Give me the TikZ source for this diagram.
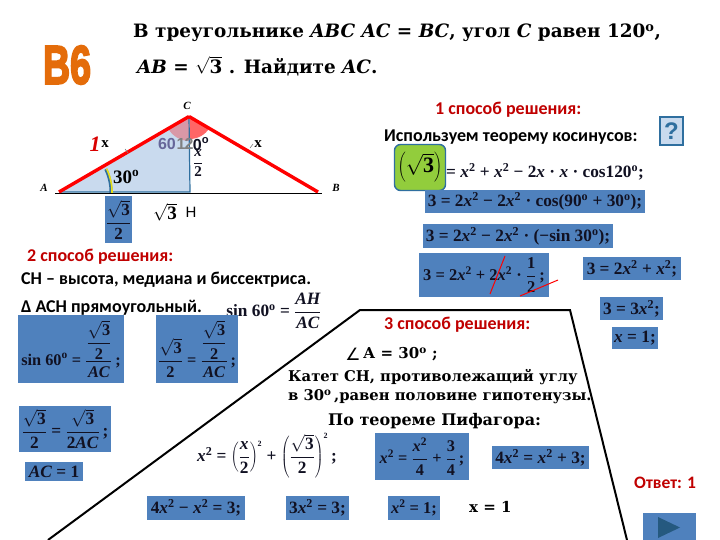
\documentclass[tikz,border=0pt]{standalone}
\usepackage{fontspec}
\setmainfont{Liberation Serif}
\newfontfamily\carl{Carlito}
\newfontfamily\arlf{Liberation Sans}
\newfontfamily\heavyf[BoldFeatures={FakeBold=4}]{Liberation Sans}
\newfontfamily\dejav{DejaVu Sans}
\newfontfamily\wideser{DejaVu Serif}
\usetikzlibrary{calc}
\definecolor{eqblue}{HTML}{4F81BD}
\definecolor{redtxt}{HTML}{C00000}
\definecolor{ink}{HTML}{111122}
\definecolor{triblue}{HTML}{C9DAEE}
\definecolor{tribord}{HTML}{2F6F9F}
\definecolor{orangeb}{HTML}{E46C0A}
\definecolor{greenb}{HTML}{92CD3C}
\newcommand{\fs}[1]{\fontsize{#1}{#1}\selectfont}
\newcommand{\xx}{\textit{x}}
\newcommand{\xs}{\textit{x}\textsuperscript{2}}
\newcommand{\dgr}{\textsuperscript{o}}
\newcommand{\rtt}{$\sqrt{\hbox{3}}$}
\newcommand{\mfr}[2]{\displaystyle\frac{\hbox{#1}}{\hbox{#2}}}
\newcommand{\fr}[2]{$\mfr{#1}{#2}$}
\tikzset{
  x=1pt,y=-1pt,
  eqbox/.style={fill=eqblue,inner sep=0pt,text=ink,font=\bfseries\fs{17.3},anchor=center,align=center},
  plaineq/.style={inner sep=0pt,text=ink,font=\bfseries\fs{17.3},anchor=center},
  redhead/.style={inner sep=0pt,anchor=west,text=redtxt,font=\carl\bfseries\fs{18}},
  sanslab/.style={inner sep=0pt,anchor=west,text=black,font=\carl\bfseries\fs{18}},
  serlab/.style={inner sep=0pt,anchor=west,text=black,font=\wideser\bfseries\fs{15}},
  titlelab/.style={inner sep=0pt,anchor=west,font=\wideser\bfseries\fs{18.4}},
  vertlab/.style={inner sep=0pt,anchor=center,text=black,font=\itshape\bfseries\fs{11}},
  strike/.style={draw=red,line width=1pt},
}
\newcommand{\ebox}[6]{% name, x1,y1,x2,y2, content
  \node[eqbox,minimum width=#4pt-#2pt,minimum height=#5pt-#3pt] (#1) at ({(#2+#4)/2},{(#3+#5)/2}) {#6};}
\begin{document}
\begin{tikzpicture}
\useasboundingbox (0,0) rectangle (720,540);
\fill[white] (0,0) rectangle (720,540);

% heading
\node[titlelab] (t1) at (133,33) {В треугольнике \textit{ABC AC} = \textit{BC}, угол \textit{C} равен 120\textsuperscript{o},};
\node[titlelab] (t2) at (137,66) {\textit{AB} = \rtt\ . Найдите \textit{AC}.};
\node[inner sep=0pt,font=\heavyf\bfseries\fs{42},text=orangeb] (b6) at (67,65) {\resizebox{48pt}{38pt}{B6}};

% triangle
\coordinate (A) at (59,192);
\coordinate (B) at (318,192);
\coordinate (C) at (189,116.5);
\coordinate (H) at (190,192);
\fill[triblue] (A) -- (C) -- (H) -- cycle;
\fill[red!60!white] (190,116.5) -- (190,139) arc[start angle=90,end angle=30,radius=22.5] -- cycle;
\fill[red!30!triblue] (189.5,116.5) -- (189.5,141) arc[start angle=90,end angle=150,radius=24.5] -- cycle;
\draw[tribord,line width=1.2pt] (A) -- (H) -- (C);
\draw[black,line width=1.6pt] (55,193.5) -- (322,193.5);
\draw[red,line width=3.4pt] (A) -- (C);
\draw[red,line width=3.4pt] (C) -- (B);
\draw[tribord,line width=3pt] ($(A)+(-26:52)$) arc[start angle=-26,end angle=1,radius=52];
\draw[yellow!90!black,line width=1.6pt] ($(A)+(-26:53)$) arc[start angle=-26,end angle=1,radius=53];
\draw[gray,line width=.6pt] (125,149) -- (128,153);
\draw[gray,line width=.6pt] (250,148) -- (253,144);

\node[vertlab] (lc) at (187,106) {C};
\node[vertlab] (la) at (44,188) {A};
\node[vertlab] (lb) at (336,188) {B};
\node[inner sep=0pt,text=red!85!black,font=\itshape\bfseries\fs{22}] (n1) at (95,144) {1};
\node[inner sep=0pt,font=\bfseries\fs{15}] (lx1) at (105,144) {x};
\node[inner sep=0pt,font=\bfseries\fs{15}] (lx2) at (258,144) {x};
\node[inner sep=0pt,text=gray!80!blue,font=\arlf\bfseries\fs{16}] (a60) at (167,144) {60};
\node[inner sep=0pt,text=gray,font=\arlf\bfseries\fs{16}] (a1) at (181,144) {1};
\node[inner sep=0pt,text=gray,font=\arlf\bfseries\fs{16}] (a2) at (189,144) {2};
\node[inner sep=0pt,text=ink,font=\arlf\bfseries\fs{16}] (a120) at (201,144) {0\dgr};
\node[inner sep=0pt,font=\bfseries\fs{15},text=ink] (xh) at (198,163) {\fr{\itshape x}{2}};
\node[inner sep=0pt,anchor=west,font=\bfseries\fs{19}] (a30) at (113,177) {30\dgr};
\ebox{bh}{105}{196}{132}{243}{\fs{17}\fr{\rtt}{2}}
\node[inner sep=0pt,font=\bfseries\fs{19}] (ab) at (165,212) {\rtt};
\node[inner sep=0pt,font=\arlf\fs{15}] (hl) at (191,212) {Н};

% method 2
\node[redhead] (m2) at (27,257) {2 способ решения:};
\node[sanslab] (m2a) at (21,280) {СН – высота, медиана  и биссектриса.};
\node[sanslab] (m2b) at (21,308) {Δ АСН прямоугольный.};
\node[plaineq] (sinf) at (274,311) {sin 60\dgr\ = \fr{\itshape AH}{\itshape AC}};
\ebox{e1}{18}{315}{124}{383}{\fs{16.3}sin 60\dgr\ = \fr{\fr{\rtt}{2}}{\itshape AC}\,;}
\ebox{e2}{156}{315}{238}{383}{\fs{16.3}\fr{\rtt}{2} = \fr{\fr{\rtt}{2}}{\itshape AC}\,;}
\ebox{e3}{19}{406}{111}{452}{\fr{\rtt}{2} = \fr{\rtt}{2\itshape AC}\,;}
\ebox{e4}{25}{462}{83}{481}{\textit{AC} = 1}
\ebox{e5}{147}{496}{245}{520}{4\xs\ − \xs\ = 3;}
\ebox{e6}{286}{496}{349}{520}{3\xs\ = 3;}
\ebox{e7}{388}{496}{440}{520}{\fs{16.5}\xs\ = 1;}

% method 3 frame
\coordinate (f1) at (48,540);
\coordinate (f2) at (360,310);
\coordinate (f3) at (570,310);
\coordinate (f4) at (627,540);
\draw[black,line width=2pt,line join=miter] (f1) -- (f2) -- (f3) -- (f4);
\node[redhead] (m3) at (384,325) {3 способ решения:};
\node[inner sep=0pt,font=\dejav\fs{17}] (ang) at (353,354) {∠};
\node[serlab] (m3a) at (363,354) {А = 30\dgr\ ;};
\node[serlab,font=\wideser\bfseries\fs{14.8}] (m3b) at (288,377) {Катет СН, противолежащий  углу};
\node[serlab,font=\wideser\bfseries\fs{14.8}] (m3c) at (288,397) {в 30\dgr\,,равен  половине гипотенузы.};
\node[serlab,font=\wideser\bfseries\fs{16}] (m3d) at (328,421) {По теореме Пифагора:};
\node[plaineq] (pyth) at (267,456) {\xs\ = $\left(\mfr{\itshape x}{2}\right)^{\hbox{\fs{8}2}}$ + $\left(\mfr{\rtt}{2}\right)^{\hbox{\fs{8}2}}$\,;};
\ebox{p1}{375}{433}{469}{480}{\fs{16.3}\xs\ = \fr{\xs}{4} + \fr{3}{4}\,;}
\ebox{p2}{492}{446}{589}{469}{4\xs\ = \xs\ + 3;}
\node[serlab] (xone) at (469,507) {x = 1};

% method 1
\node[redhead] (m1) at (435,110) {1 способ решения:};
\node[sanslab] (m1a) at (384,137) {Используем теорему косинусов:};
\node[draw=tribord,line width=1.2pt,fill=triblue,minimum width=23pt,minimum height=28pt,inner sep=0pt,text=tribord,font=\arlf\bfseries\fs{24}] (q) at (671.5,131) {?};
\node[plaineq,anchor=west] (c0) at (446,172) {= \xs\ + \xs\ − 2\xx\ · \xx\ · cos120\dgr;};
\node[fill=greenb,draw=tribord,line width=1.4pt,rounded corners=6pt,minimum width=51pt,minimum height=46pt,inner sep=0pt,font=\bfseries\fs{22}] (g) at (420,167.5) {$\left(\hbox{\rtt}\right)$};
\ebox{c1}{425}{190}{645}{213}{3 = 2\xs\ − 2\xs\ · cos(90\dgr\ + 30\dgr);}
\ebox{c2}{423}{224}{613}{248}{3 = 2\xs\ − 2\xs\ · (−sin 30\dgr);}
\ebox{c3}{419}{253}{549}{297}{\fs{16.5}3 = 2\xs\ + 2\xs\ · \fr{1}{2}\,;}
\coordinate (s1a) at (490,294);
\coordinate (s1b) at (505,256);
\coordinate (s2a) at (520,296);
\coordinate (s2b) at (558,280);
\draw[strike] (s1a) -- (s1b);
\draw[strike] (s2a) -- (s2b);
\ebox{c4}{583}{257}{681}{280}{3 = 2\xs\ + \xs;}
\ebox{c5}{600}{297}{663}{320}{3 = 3\xs;}
\ebox{c6}{612}{327}{658}{349}{\xx\ = 1;}
\node[redhead,font=\carl\bfseries\fs{17.5}] (ans) at (634,483) {Ответ: 1};

% nav button
\fill[eqblue] (643,513) rectangle (696,540);
\coordinate (n1a) at (658,517);
\coordinate (n1b) at (658,538);
\coordinate (n1c) at (680,527.5);
\fill[tribord!80!black] (n1a) -- (n1c) -- (n1b) -- cycle;
\end{tikzpicture}
\end{document}
